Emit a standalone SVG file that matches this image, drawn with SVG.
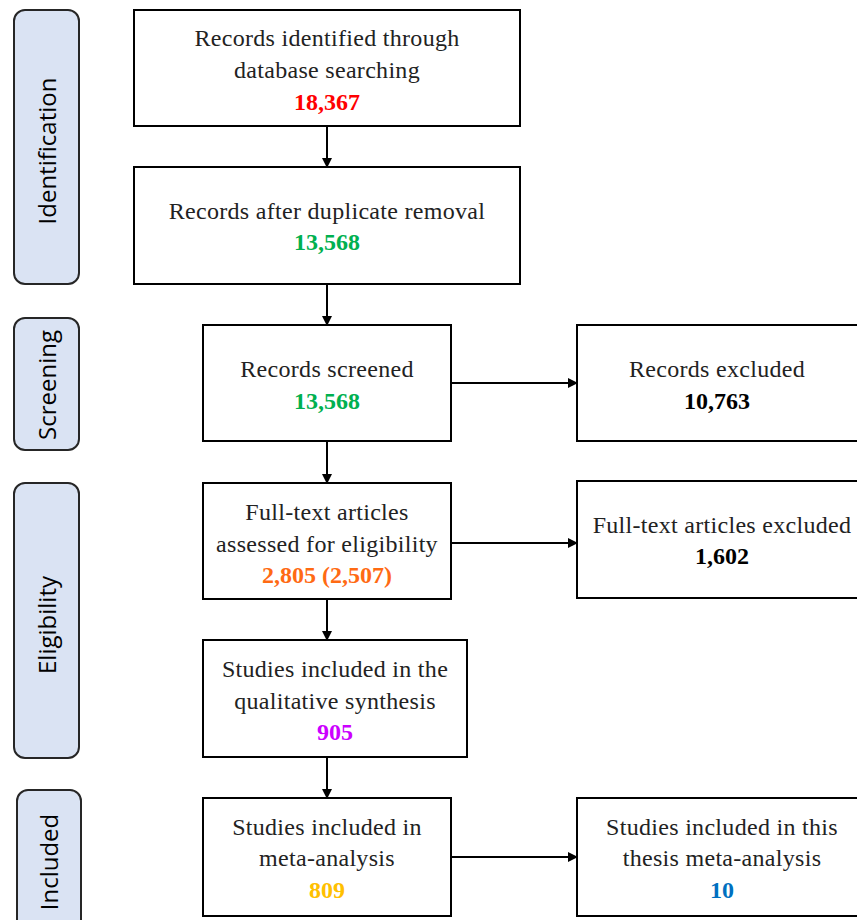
<svg xmlns="http://www.w3.org/2000/svg" width="857" height="920" viewBox="0 0 857 920">
<style>
.stage rect{fill:#DAE3F3;stroke:#262626;stroke-width:2}
.stage text{font-family:'Open Sans','Noto Sans',sans-serif;font-size:24px;fill:#000;text-anchor:middle}
.box rect{fill:#fff;stroke:#000;stroke-width:2}
.box text{font-family:'Liberation Serif','Times New Roman','DejaVu Serif',serif;font-size:24px;letter-spacing:0.3px;fill:#222;text-anchor:middle}
.box text.n{font-weight:bold;letter-spacing:0}
.conn line{stroke:#000;stroke-width:2}
</style>
<defs>
<marker id="ah" markerWidth="10" markerHeight="10" refX="9" refY="5" orient="auto" markerUnits="userSpaceOnUse">
<path d="M0,0 L10,5 L0,10 z" fill="#000"/>
</marker>
</defs>
<rect width="857" height="920" fill="#fff"/>
<g id="stage-identification" class="stage"><rect x="14" y="10" width="65" height="274" rx="11"/><text transform="translate(56,151) rotate(-90)">Identification</text></g>
<g id="stage-screening" class="stage"><rect x="14" y="318" width="65" height="132" rx="11"/><text transform="translate(56,385) rotate(-90)">Screening</text></g>
<g id="stage-eligibility" class="stage"><rect x="14" y="483" width="65" height="275" rx="11"/><text transform="translate(56,625) rotate(-90)">Eligibility</text></g>
<g id="stage-included" class="stage"><rect x="17" y="790" width="64" height="150" rx="11"/><text transform="translate(58,862) rotate(-90)">Included</text></g>

<g id="n-identified" class="box"><rect x="134" y="10" width="386" height="116"/><text x="327" y="46">Records identified through</text><text x="327" y="78">database searching</text><text x="327" y="110" class="n" style="fill:#FF0000">18,367</text></g>
<g id="n-dedup" class="box"><rect x="134" y="167" width="386" height="117"/><text x="327" y="219">Records after duplicate removal</text><text x="327" y="250" class="n" style="fill:#00B050">13,568</text></g>
<g id="n-screened" class="box"><rect x="203" y="325" width="248" height="116"/><text x="327" y="377">Records screened</text><text x="327" y="409" class="n" style="fill:#00B050">13,568</text></g>
<g id="n-excluded" class="box"><rect x="577" y="325" width="290" height="116"/><text x="717" y="377">Records excluded</text><text x="717" y="409" class="n" style="fill:#000">10,763</text></g>
<g id="n-fulltext" class="box"><rect x="203" y="483" width="248" height="116"/><text x="327" y="520">Full-text articles</text><text x="327" y="552">assessed for eligibility</text><text x="327" y="583" class="n" style="fill:#FF6A13">2,805 (2,507)</text></g>
<g id="n-ftexcluded" class="box"><rect x="577" y="481" width="290" height="117"/><text x="722" y="533">Full-text articles excluded</text><text x="722" y="564" class="n" style="fill:#000">1,602</text></g>
<g id="n-qualitative" class="box"><rect x="203" y="640" width="264" height="117"/><text x="335" y="677">Studies included in the</text><text x="335" y="709">qualitative synthesis</text><text x="335" y="740" class="n" style="fill:#CC00FF">905</text></g>
<g id="n-meta" class="box"><rect x="203" y="798" width="248" height="118"/><text x="327" y="835">Studies included in</text><text x="327" y="866">meta-analysis</text><text x="327" y="898" class="n" style="fill:#FFC000">809</text></g>
<g id="n-thesis" class="box"><rect x="577" y="798" width="290" height="118"/><text x="722" y="835">Studies included in this</text><text x="722" y="866">thesis meta-analysis</text><text x="722" y="898" class="n" style="fill:#0070C0">10</text></g>

<g id="connectors" class="conn">
<line x1="327" y1="126" x2="327" y2="167" marker-end="url(#ah)"/>
<line x1="327" y1="284" x2="327" y2="325" marker-end="url(#ah)"/>
<line x1="327" y1="441" x2="327" y2="483" marker-end="url(#ah)"/>
<line x1="327" y1="599" x2="327" y2="640" marker-end="url(#ah)"/>
<line x1="327" y1="757" x2="327" y2="798" marker-end="url(#ah)"/>
<line x1="451" y1="383" x2="577" y2="383" marker-end="url(#ah)"/>
<line x1="451" y1="543" x2="577" y2="543" marker-end="url(#ah)"/>
<line x1="451" y1="857" x2="577" y2="857" marker-end="url(#ah)"/>
</g>
</svg>
